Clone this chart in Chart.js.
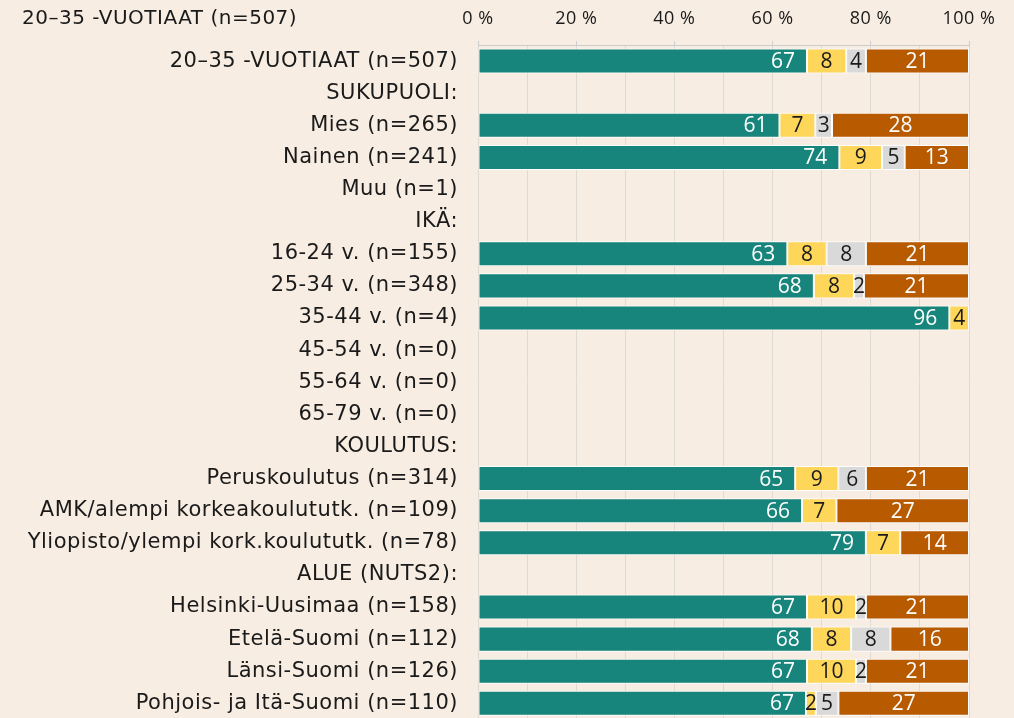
<!DOCTYPE html>
<html><head><meta charset="utf-8">
<script src="https://cdn.jsdelivr.net/npm/chart.js@4.4.1/dist/chart.umd.min.js"></script>
<style>
html,body{margin:0;padding:0;background:#F7EDE3;overflow:hidden;}
#wrap{width:1014px;height:760px;position:relative;}
</style></head><body>
<div id="wrap"><canvas id="c" width="1014" height="752"></canvas></div>
<script>
const title = '20–35 -VUOTIAAT (n=507)';
const categories = [
  '20–35 -VUOTIAAT (n=507)', 'SUKUPUOLI:', 'Mies (n=265)', 'Nainen (n=241)', 'Muu (n=1)',
  'IKÄ:', '16-24 v. (n=155)', '25-34 v. (n=348)', '35-44 v. (n=4)', '45-54 v. (n=0)',
  '55-64 v. (n=0)', '65-79 v. (n=0)', 'KOULUTUS:', 'Peruskoulutus (n=314)',
  'AMK/alempi korkeakoulututk. (n=109)', 'Yliopisto/ylempi kork.koulututk. (n=78)',
  'ALUE (NUTS2):', 'Helsinki-Uusimaa (n=158)', 'Etelä-Suomi (n=112)', 'Länsi-Suomi (n=126)',
  'Pohjois- ja Itä-Suomi (n=110)'
];
const tealData   = [67,null,61.4,73.6,null,null,63,68.4,96,null,null,null,null,64.6,66,79,null,67,68,67,66.8];
const yellowData = [8,null,7.3,8.7,null,null,8,8.2,4,null,null,null,null,8.8,7,7,null,10,8,10,2];
const grayData   = [4,null,3.4,4.6,null,null,8,2,0,null,null,null,null,5.6,0,0,null,2,8,2,4.6];
const orangeData = [21,null,27.9,13.1,null,null,21,21.4,0,null,null,null,null,21,27,14,null,21,16,21,26.6];
const xTickValues = [0, 20, 40, 60, 80, 100];

const FONT = "'DejaVu Sans', sans-serif";
const NUMFONT = "'Open Sans', sans-serif";
const colors = ['#17857B', '#FED65A', '#D9D9D9', '#B85A00'];
const labelColors = ['#FFFFFF', '#1A1A1A', '#1A1A1A', '#FFFFFF'];

const labelPlugin = {
  id: 'segLabels',
  beforeDraw(chart) {
    chart.ctx.letterSpacing = '0.5px';
  },
  afterDatasetsDraw(chart) {
    const ctx = chart.ctx;
    ctx.save();
    ctx.font = '21px ' + NUMFONT;
    ctx.letterSpacing = '0px';
    ctx.textBaseline = 'middle';
    chart.data.datasets.forEach((ds, di) => {
      const meta = chart.getDatasetMeta(di);
      meta.data.forEach((bar, i) => {
        const v = ds.data[i];
        if (v == null || Math.round(v) < 1) return;
        const txt = String(Math.round(v));
        ctx.fillStyle = labelColors[di];
        if (di === 0) {
          ctx.textAlign = 'right';
          ctx.fillText(txt, bar.x - 12, bar.y + 1);
        } else {
          ctx.textAlign = 'center';
          ctx.fillText(txt, (bar.x + bar.base) / 2, bar.y + 1);
        }
      });
    });
    ctx.restore();
  },
  afterDraw(chart) {
    const ctx = chart.ctx;
    ctx.save();
    ctx.font = '20px ' + FONT;
    ctx.fillStyle = '#1A1A1A';
    ctx.textAlign = 'left';
    ctx.textBaseline = 'middle';
    ctx.fillText(title, 22, 19);
    ctx.restore();
  }
};

new Chart(document.getElementById('c'), {
  type: 'bar',
  data: {
    labels: categories,
    datasets: [tealData, yellowData, grayData, orangeData].map((d, i) => ({
      data: d,
      backgroundColor: colors[i],
      borderColor: '#FFFFFF',
      borderWidth: 1,
      borderSkipped: false,
      categoryPercentage: 1,
      barPercentage: 0.78
    }))
  },
  options: {
    indexAxis: 'y',
    responsive: false,
    animation: false,
    layout: { padding: { top: 0, right: 45, bottom: 0, left: 0 } },
    plugins: { legend: { display: false }, tooltip: { enabled: false } },
    scales: {
      x: {
        position: 'top',
        stacked: true,
        min: 0, max: 100,
        ticks: {
          stepSize: 10,
          color: '#1A1A1A',
          font: { size: 18, family: NUMFONT },
          padding: 11,
          maxRotation: 0,
          autoSkip: false,
          callback: (v) => xTickValues.includes(v) ? v + ' %' : ''
        },
        grid: {
          color: '#DEDAD4',
          lineWidth: 1,
          tickLength: 4,
          tickColor: (c) => (c.tick && xTickValues.includes(c.tick.value)) ? '#CCCCCC' : 'rgba(0,0,0,0)'
        },
        border: { display: true, color: '#CCCCCC' },
        afterFit: (s) => { s.height = 45; }
      },
      y: {
        stacked: true,
        ticks: {
          color: '#1A1A1A',
          font: { size: 21, family: FONT },
          padding: 20,
          autoSkip: false
        },
        grid: { display: false, drawTicks: false },
        border: { display: false },
        afterFit: (s) => { s.width = 478; }
      }
    }
  },
  plugins: [labelPlugin]
});
</script>
</body></html>
